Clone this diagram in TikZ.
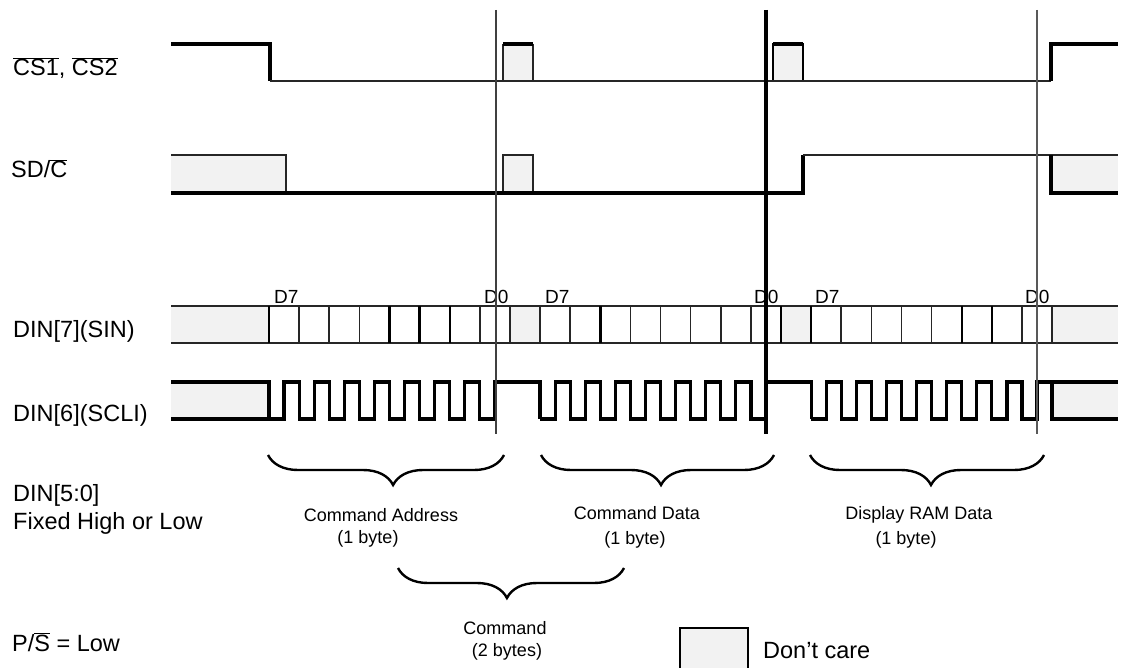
\documentclass[tikz,border=0pt]{standalone}
\usepackage{fontspec}
\setmainfont{Liberation Sans}
\usetikzlibrary{decorations.pathreplacing}
\definecolor{dcare}{HTML}{F2F2F2}
\newcommand\ovl[1]{$\overline{\mbox{#1}}$}
\begin{document}
\begin{tikzpicture}[x=1pt,y=-1pt,
  wthin/.style={line width=1.6pt, draw=black!85},
  wmed/.style={line width=2.4pt, draw=black},
  wthick/.style={line width=3.2pt, draw=black},
  lbl/.style={inner sep=0pt, anchor=base west, font=\fontsize{23.5}{27}\selectfont},
  blbl/.style={inner sep=0pt, anchor=base, font=\fontsize{18}{20}\selectfont},
  dlbl/.style={inner sep=0pt, anchor=base west, font=\fontsize{19}{21}\selectfont},
  bracestyle/.style={line width=2.4pt, draw=black, decorate, decoration={brace, amplitude=30pt, aspect=#1}}
]
\useasboundingbox[fill=white] (0,0) rectangle (1123,668);

% ---------- CS1, CS2 ----------
\fill[dcare] (503,44) rectangle (533,81);
\draw[wthin] (503,81)--(503,44) (533,44)--(533,81);
\draw[wthick] (503,44)--(533,44);
\fill[dcare] (773,44) rectangle (803,81);
\draw[wmed] (773,81)--(773,44)--(803,44)--(803,81);
\draw[wthick] (773,44)--(803,44);
\draw[wthick] (171,44)--(270,44)--(270,81);
\draw[wthin] (270,81)--(1051,81);
\draw[wthick] (1051,81)--(1051,44)--(1118,44);

% ---------- SD/C ----------
\fill[dcare] (171,155) rectangle (286,193);
\draw[wthin] (171,155)--(286,155)--(286,193);
\fill[dcare] (503,155) rectangle (533,193);
\draw[wthin] (503,193)--(503,155)--(533,155)--(533,193);
\fill[dcare] (1051,155) rectangle (1118,193);
\draw[wthick] (171,193)--(803,193)--(803,155);
\draw[wthin] (803,155)--(1118,155);
\draw[wthick] (1051,155)--(1051,193)--(1118,193);

% ---------- DIN[7] ----------
\fill[dcare] (171,306) rectangle (269,343);
\fill[dcare] (510,306) rectangle (540,343);
\fill[dcare] (782,306) rectangle (811,343);
\fill[dcare] (1052,306) rectangle (1118,343);
\draw[wthin] (171,306)--(1118,306) (171,343)--(1118,343);
\foreach \k in {1,2,3,7,8,9,10,12,13,14,15,16,19,20,21,22,25,26}
  \draw[wthin] ({269+30.12*\k},306)--({269+30.12*\k},343);
\foreach \k in {0,4,5,6,11,17,18,23,24}
  \draw[wmed] ({269+30.12*\k},306)--({269+30.12*\k},343);

% ---------- DIN[6] clock ----------
\fill[dcare] (171,382) rectangle (269,419);
\fill[dcare] (1052,382) rectangle (1118,419);
\draw[wthick] (171,419)--(269,419);
\draw[wthick] (171,382)--(269,382)--(269,419);
\foreach \s in {269,540.08} {
  \draw[wthick] (\s,419)
    \foreach \k in {0,...,6} {
      -- ({\s+30.12*\k+15.06},419) -- ({\s+30.12*\k+15.06},382)
      -- ({\s+30.12*\k+30.12},382) -- ({\s+30.12*\k+30.12},419)
    }
    -- ({\s+225.9},419) -- ({\s+225.9},382) -- ({\s+271.08},382) -- ({\s+271.08},419);
}
\draw[wthick] (811.16,419)
    \foreach \k in {0,...,6} {
      -- ({811.16+30.12*\k+15.06},419) -- ({811.16+30.12*\k+15.06},382)
      -- ({811.16+30.12*\k+30.12},382) -- ({811.16+30.12*\k+30.12},419)
    }
    -- (1037.06,419) -- (1037.06,382) -- (1118,382);
\draw[wthick] (1052,382)--(1052,419)--(1118,419);

% ---------- bit labels ----------
\node[dlbl] (d7a) at (274,303) {D7};
\node[dlbl] (d0a) at (484,303) {D0};
\node[dlbl] (d7b) at (545,303) {D7};
\node[dlbl] (d0b) at (754,303) {D0};
\node[dlbl] (d7c) at (815,303) {D7};
\node[dlbl] (d0c) at (1025,303) {D0};

% ---------- vertical markers ----------
\draw[line width=1.7pt, black!75] (496,10)--(496,434);
\draw[line width=3.4pt, black] (766,10)--(766,434);
\draw[line width=1.7pt, black!65] (1037,10)--(1037,434);

% ---------- signal labels ----------
\node[lbl] (cs) at (13,76) {\ovl{CS1}, \ovl{CS2}};
\node[lbl] (sdc) at (11,178) {SD/\ovl{C}};
\node[lbl] (din7) at (13,337) {DIN[7](SIN)};
\node[lbl] (din6) at (13,421) {DIN[6](SCLI)};
\node[lbl] (din5) at (13,501) {DIN[5:0]};
\node[lbl] (fixed) at (13,529) {Fixed High or Low};
\node[lbl] (ps) at (12,651) {P/\ovl{S} = Low};

% ---------- braces ----------
\draw[bracestyle=0.47] (504,455) -- (268,455);
\draw[bracestyle=0.485] (774,455) -- (541,455);
\draw[bracestyle=0.483] (1044,455) -- (810,455);
\draw[bracestyle=0.518] (624,568) -- (398,568);

\node[blbl] (ca1) at (381,521) {Command Address};
\node[blbl] (ca2) at (368,543) {(1 byte)};
\node[blbl] (cd1) at (637,519) {Command Data};
\node[blbl] (cd2) at (635,544) {(1 byte)};
\node[blbl] (dr1) at (919,519) {Display RAM Data};
\node[blbl] (dr2) at (906,544) {(1 byte)};
\node[blbl] (cm1) at (505,634) {Command};
\node[blbl] (cm2) at (507,656) {(2 bytes)};

% ---------- legend ----------
\fill[dcare] (680,628) rectangle (748,668);
\draw[wmed] (680,668)--(680,628)--(748,628)--(748,668);
\node[lbl] (dc) at (763,658) {Don’t care};
\end{tikzpicture}
\end{document}
